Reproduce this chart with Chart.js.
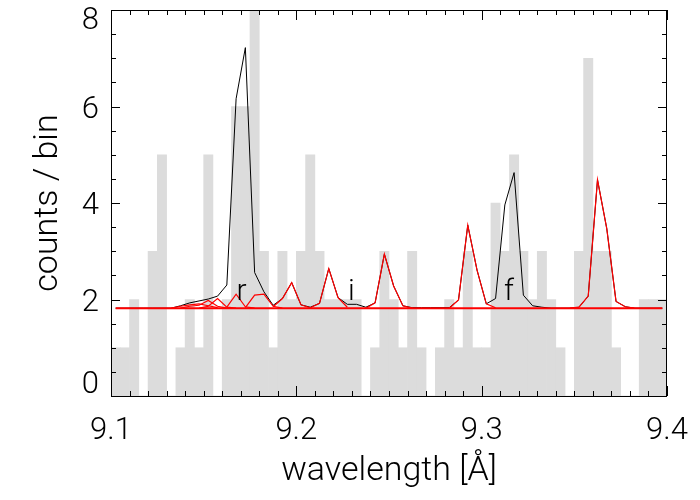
<!DOCTYPE html>
<html>
<head>
<meta charset="utf-8">
<script src="https://cdn.jsdelivr.net/npm/chart.js@4.4.1/dist/chart.umd.min.js"></script>
<style>
  html, body { margin: 0; padding: 0; background: #fff; }
  #wrap { width: 700px; height: 500px; }
</style>
</head>
<body>
<div id="wrap"><canvas id="grafica"></canvas></div>
<script>
// Centros de bin (Å), ancho 0.005
const binCenters = [
  9.1025, 9.1075, 9.1125, 9.1175, 9.1225, 9.1275, 9.1325, 9.1375, 9.1425, 9.1475,
  9.1525, 9.1575, 9.1625, 9.1675, 9.1725, 9.1775, 9.1825, 9.1875, 9.1925, 9.1975,
  9.2025, 9.2075, 9.2125, 9.2175, 9.2225, 9.2275, 9.2325, 9.2375, 9.2425, 9.2475,
  9.2525, 9.2575, 9.2625, 9.2675, 9.2725, 9.2775, 9.2825, 9.2875, 9.2925, 9.2975,
  9.3025, 9.3075, 9.3125, 9.3175, 9.3225, 9.3275, 9.3325, 9.3375, 9.3425, 9.3475,
  9.3525, 9.3575, 9.3625, 9.3675, 9.3725, 9.3775, 9.3825, 9.3875, 9.3925, 9.3975
];

// Cuentas observadas por bin
const counts = [
  1, 1, 2, 0, 3, 5, 0, 1, 2, 1,
  5, 0, 2, 6, 6, 8, 3, 1, 3, 2,
  3, 5, 3, 2, 2, 2, 2, 0, 1, 3,
  2, 1, 3, 1, 0, 1, 2, 1, 3, 1,
  1, 4, 3, 5, 3, 2, 3, 2, 1, 0,
  3, 7, 3, 3, 1, 0, 0, 2, 2, 2
];

// Modelo total (negro)
const modelTotal = [
  1.82, 1.82, 1.82, 1.82, 1.82, 1.82, 1.82, 1.87, 1.93, 1.97,
  2.01, 2.07, 2.30, 6.16, 7.22, 2.56, 2.16, 1.88, 2.02, 2.35,
  1.89, 1.84, 1.92, 2.64, 2.04, 1.90, 1.90, 1.84, 1.93, 2.94,
  2.28, 1.87, 1.83, 1.83, 1.83, 1.83, 1.83, 1.99, 3.54, 2.61,
  1.91, 2.02, 3.96, 4.63, 2.09, 1.87, 1.84, 1.82, 1.82, 1.82,
  1.84, 2.07, 4.48, 3.47, 1.96, 1.85, 1.82, 1.82, 1.82, 1.82
];

// Componentes individuales (rojo): bin inicial y valores
const compStart = [6, 7, 9, 12, 14, 17, 21, 27, 36, 49];
const comp1 = [1.82, 1.86, 1.89, 1.91, 1.87, 1.83];
const comp2 = [1.82, 1.86, 1.88, 1.98, 1.86, 1.82];
const comp3 = [1.82, 1.86, 2.02, 1.84, 1.82];
const comp4 = [1.84, 2.11, 1.85, 1.82];
const comp5 = [1.83, 2.09, 2.11, 1.86, 1.82];
const comp6 = [1.85, 2.02, 2.35, 1.89, 1.83];
const comp7 = [1.83, 1.92, 2.64, 2.04, 1.84];
const comp8 = [1.82, 1.93, 2.94, 2.28, 1.87, 1.82];
const comp9 = [1.82, 1.99, 3.54, 2.61, 1.91, 1.83];
const comp10 = [1.82, 1.84, 2.07, 4.48, 3.47, 1.96, 1.85, 1.82];
const components = [comp1, comp2, comp3, comp4, comp5, comp6, comp7, comp8, comp9, comp10];

// Continuo
const continuumWave = [9.1025, 9.3975];
const continuumLevel = [1.82, 1.82];

// Etiquetas
const xTickLabels = ["9.1", "9.2", "9.3", "9.4"];
const yTickLabels = ["0", "2", "4", "6", "8"];
const lineNames = ["r", "i", "f"];
const lineNameWave = [9.1704, 9.2297, 9.3148];
const lineNameLevel = [1.99, 1.99, 1.99];

const FONT = "Roboto";
const GRAY = "#dcdcdc";
const RED = "#ff0000";

function esMultiplo(v, paso) {
    const r = v / paso;
    return Math.abs(r - Math.round(r)) < 1e-6;
}

// Sin relleno automatico alrededor de las etiquetas
function sinPadding(s) {
    s.paddingTop = 0;
    s.paddingBottom = 0;
    s.paddingLeft = 0;
    s.paddingRight = 0;
}

// Marco, ticks hacia dentro en los cuatro lados y nombres de lineas
const marcoPlugin = {
    id: "marco",
    afterDraw(chart) {
        const ctx = chart.ctx;
        const a = chart.chartArea;
        const x = chart.scales.x, y = chart.scales.y;
        const L = Math.round(a.left), R = Math.round(a.right) - 1;
        const T = Math.round(a.top), B = Math.round(a.bottom);
        ctx.save();
        ctx.fillStyle = "#000";
        ctx.fillRect(L, T, R - L + 1, 1);
        ctx.fillRect(L, B, R - L + 1, 1);
        ctx.fillRect(L, T, 1, B - T + 1);
        ctx.fillRect(R, T, 1, B - T + 1);
        x.ticks.forEach(t => {
            const px = Math.round(x.getPixelForValue(t.value));
            const len = esMultiplo(t.value, 0.1) ? 10 : 5;
            ctx.fillRect(px, B - len, 1, len);
            ctx.fillRect(px, T, 1, len);
        });
        y.ticks.forEach(t => {
            const py = Math.round(y.getPixelForValue(t.value));
            const len = esMultiplo(t.value, 2) ? 9 : 5;
            ctx.fillRect(L, py, len, 1);
            ctx.fillRect(R - len + 1, py, len, 1);
        });

        ctx.font = "300 30px " + FONT;
        ctx.textAlign = "center";
        ctx.textBaseline = "alphabetic";
        lineNames.forEach((n, i) => {
            ctx.fillText(n, x.getPixelForValue(lineNameWave[i]), y.getPixelForValue(lineNameLevel[i]));
        });
        ctx.restore();
    }
};

const datasets = [];

datasets.push({
    type: "bar",
    data: binCenters.map((w, i) => ({ x: w, y: counts[i] })),
    backgroundColor: GRAY,
    borderWidth: 0,
    barPercentage: 1,
    categoryPercentage: 1,
    order: 10
});

datasets.push({
    type: "line",
    data: binCenters.map((w, i) => ({ x: w, y: modelTotal[i] })),
    borderColor: "#000",
    borderWidth: 1,
    pointRadius: 0,
    tension: 0,
    order: 5
});

components.forEach((vals, c) => {
    datasets.push({
        type: "line",
        data: vals.map((v, i) => ({ x: binCenters[compStart[c] + i], y: v })),
        borderColor: RED,
        borderWidth: 1.2,
        pointRadius: 0,
        tension: 0,
        order: 2
    });
});

datasets.push({
    type: "line",
    data: continuumWave.map((w, i) => ({ x: w, y: continuumLevel[i] })),
    borderColor: RED,
    borderWidth: 2,
    pointRadius: 0,
    order: 1
});

new Chart(document.getElementById("grafica"), {
    type: "line",
    data: { datasets },
    options: {
        responsive: true,
        maintainAspectRatio: false,
        animation: false,
        layout: { padding: { top: 10, right: 33, left: 0, bottom: 0 } },
        plugins: { legend: { display: false }, tooltip: { enabled: false } },
        scales: {
            x: {
                type: "linear",
                offset: false,
                min: 9.1,
                max: 9.4,
                grid: { display: false, drawTicks: false },
                border: { display: false },
                ticks: {
                    stepSize: 0.01,
                    autoSkip: false,
                    maxRotation: 0,
                    padding: 17,
                    color: "#000",
                    font: { family: FONT, size: 31, weight: "300" },
                    callback: v => {
                        const s = v.toFixed(1);
                        return esMultiplo(v, 0.1) && xTickLabels.includes(s) ? s : "";
                    }
                },
                title: {
                    display: true,
                    text: "wavelength [Å]",
                    color: "#000",
                    font: { family: FONT, size: 34, weight: "300" },
                    padding: { top: 0, bottom: 8 }
                },
                afterFit: s => { s.height = 104; sinPadding(s); }
            },
            y: {
                type: "linear",
                min: 0,
                max: 8,
                grid: { display: false, drawTicks: false },
                border: { display: false },
                ticks: {
                    stepSize: 0.5,
                    autoSkip: false,
                    padding: 12,
                    labelOffset: 3.5,
                    color: "#000",
                    font: c => {
                        let lh = 1.2;
                        if (c.tick && c.tick.value === 8) lh = 0.48;
                        if (c.tick && c.tick.value === 0) lh = 0.94;
                        return { family: FONT, size: 31, weight: "300", lineHeight: lh };
                    },
                    callback: v => {
                        const s = String(Math.round(v));
                        if (!esMultiplo(v, 2) || !yTickLabels.includes(s)) return "";
                        if (s === "8") return ["", s];
                        if (s === "0") return [s, ""];
                        return s;
                    }
                },
                title: {
                    display: true,
                    text: "counts / bin",
                    color: "#000",
                    font: { family: FONT, size: 34, weight: "300" },
                    padding: { top: 28, bottom: 0 }
                },
                afterFit: s => { s.width = 111; sinPadding(s); }
            }
        }
    },
    plugins: [marcoPlugin]
});
</script>
</body>
</html>
